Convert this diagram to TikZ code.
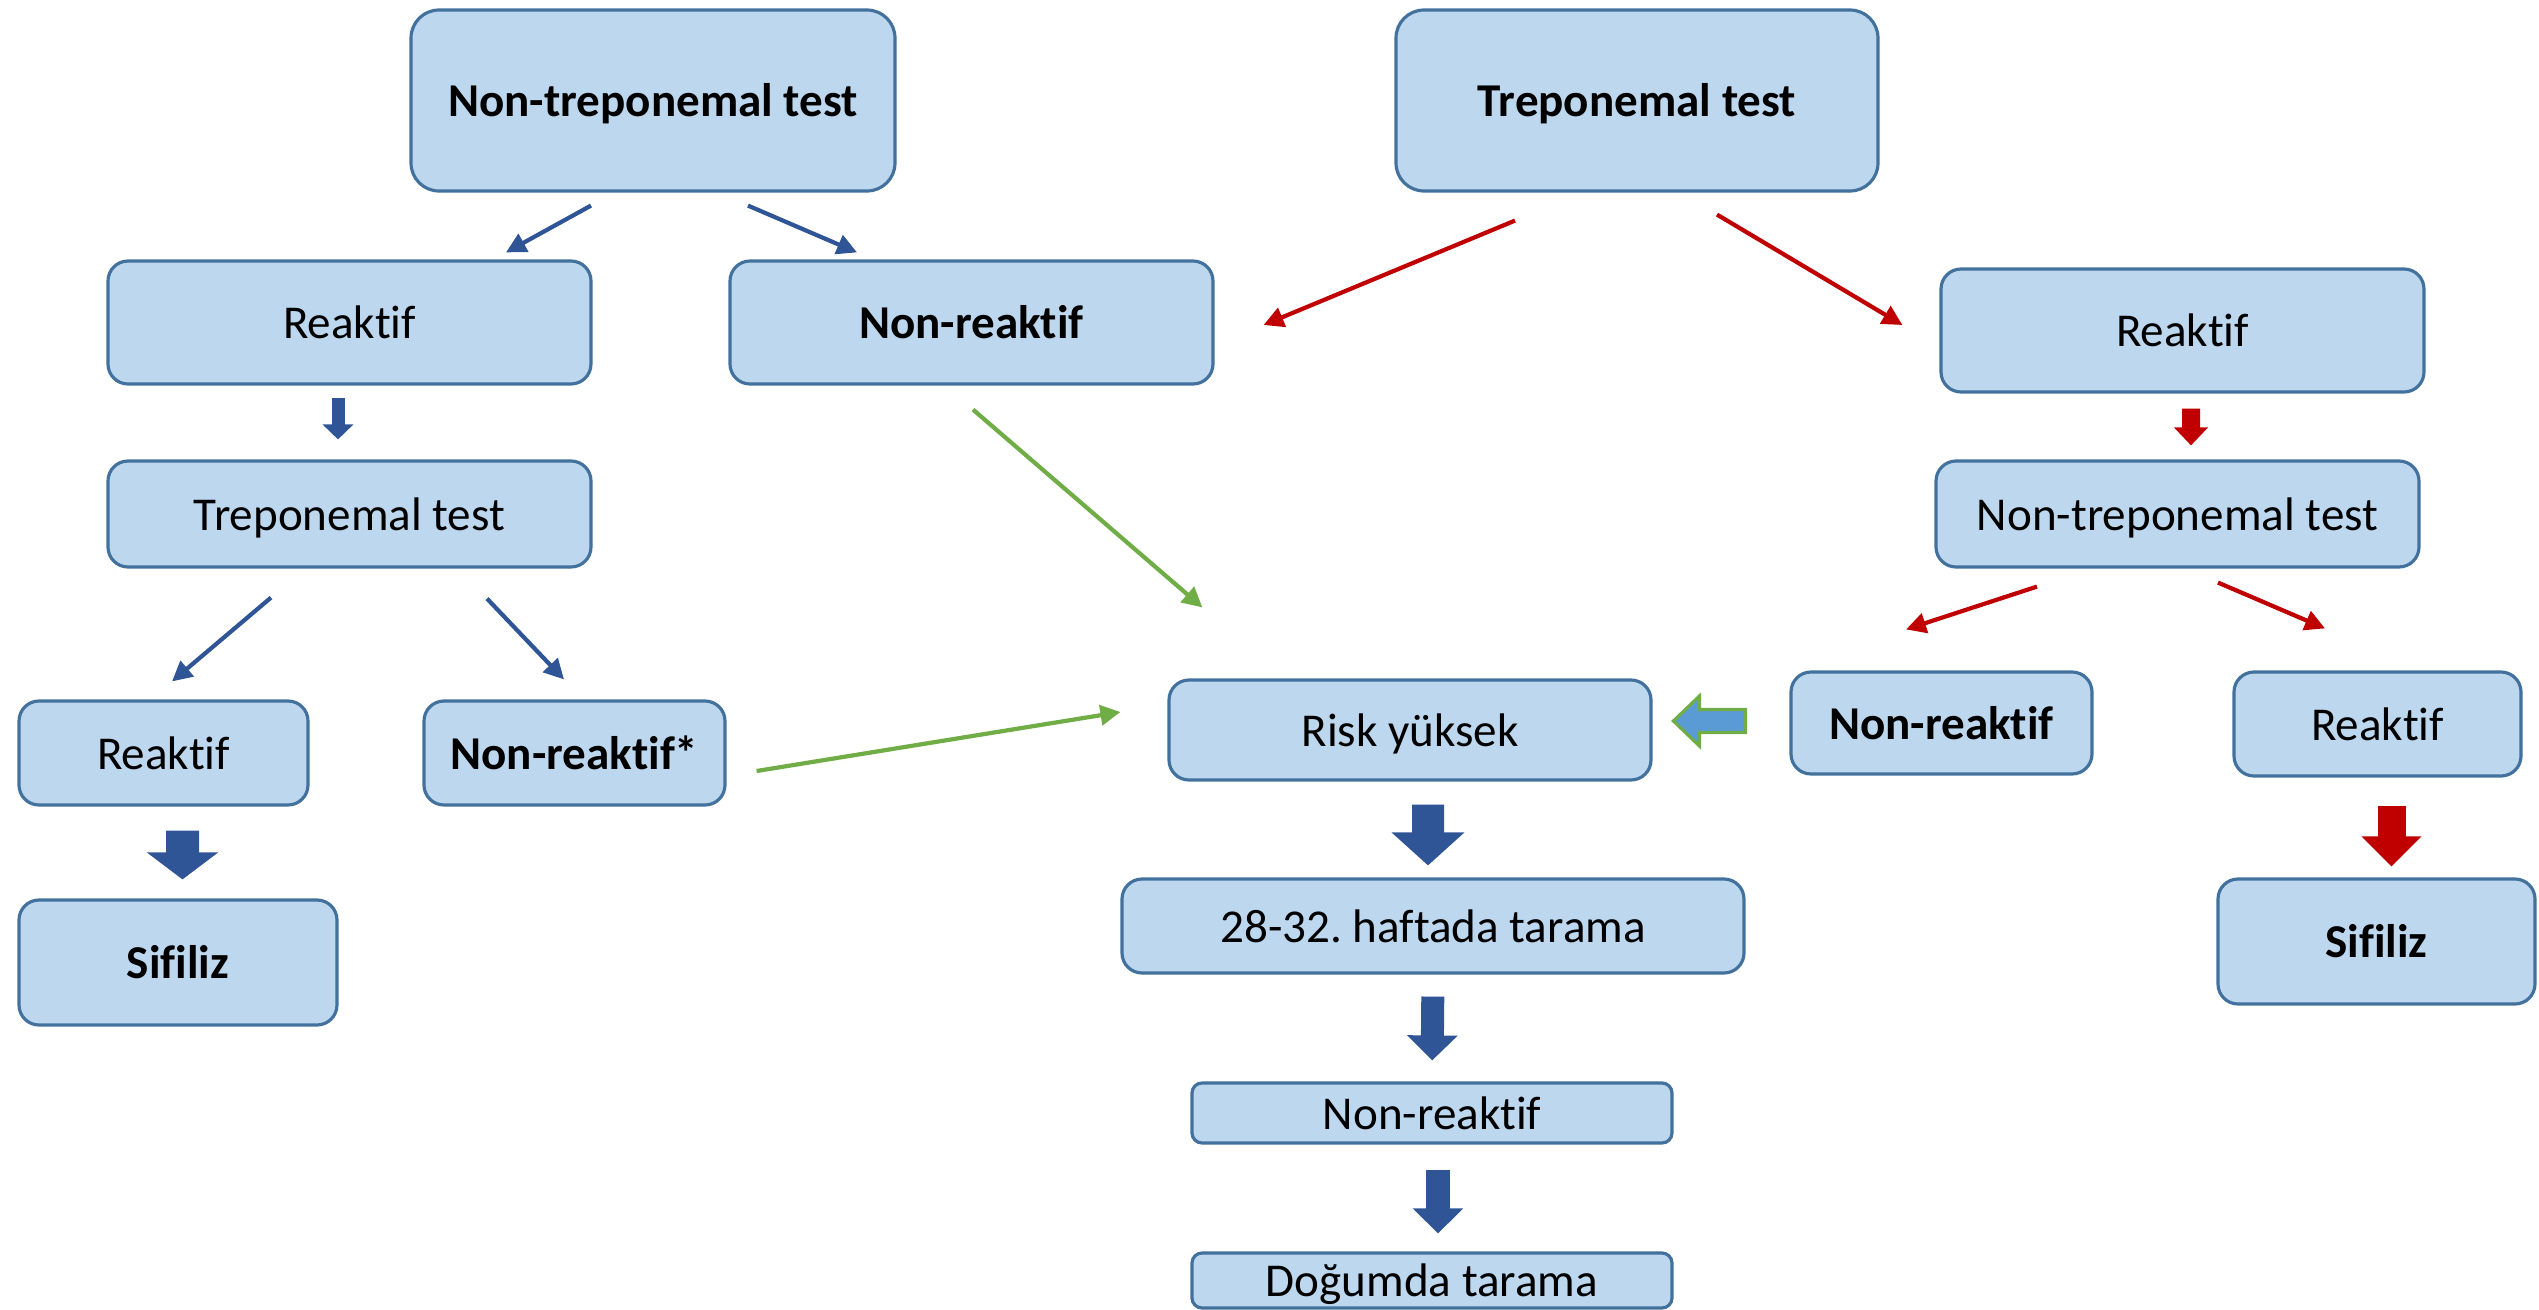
\documentclass[tikz,border=0pt]{standalone}
\usepackage{fontspec}
\setmainfont{Carlito}[Ligatures=NoCommon]
\usepackage{tikz}
\usetikzlibrary{arrows.meta,calc}
\definecolor{boxfill}{HTML}{BDD7EE}
\definecolor{boxline}{HTML}{41719C}
\definecolor{blue}{HTML}{2F5597}
\definecolor{red}{HTML}{C00000}
\definecolor{green}{HTML}{70AD47}
\definecolor{bluelite}{HTML}{5B9BD5}
\frenchspacing

\begin{document}
\begin{tikzpicture}[>={Triangle[length=0.2cm,width=0.2cm]},
    testbox/.style={rounded corners=0.2cm,fill=boxfill,draw=boxline,line width=0.9pt,inner sep=0pt,text height=0.32cm,text depth=0cm,font=\fontsize{13.4}{16}\selectfont},
    thinarr/.style={->,line width=1.2pt},
    blockarr/.style n args={3}{line width=#1,-{Triangle[length=#2,width=#3]}}]
        \useasboundingbox (0,0) rectangle (25.39,-13.10);
        % left branch
        \node[testbox,rounded corners=0.28cm,minimum width=4.84cm,minimum height=1.81cm] (ntT) at (6.53,-1.005) {\textbf{Non-treponemal test}};
        \node[testbox,minimum width=4.83cm,minimum height=1.23cm] (raL) at (3.495,-3.225) {Reaktif};
        \node[testbox,minimum width=4.83cm,minimum height=1.23cm] (nrL) at (9.715,-3.225) {\textbf{Non-reaktif}};
        \node[testbox,minimum width=4.83cm,minimum height=1.06cm] (ttL) at (3.495,-5.14) {Treponemal test};
        \node[testbox,minimum width=2.89cm,minimum height=1.04cm] (rLL) at (1.635,-7.53) {Reaktif};
        \node[testbox,minimum width=3.01cm,minimum height=1.04cm] (nrS) at (5.745,-7.53) {\textbf{Non-reaktif*}};
        \node[testbox,minimum width=3.18cm,minimum height=1.25cm] (sL) at (1.78,-9.625) {\textbf{Sifiliz}};
        % middle
        \node[testbox,minimum width=4.82cm,minimum height=1.00cm] (risk) at (14.10,-7.30) {Risk yüksek};
        \node[testbox,minimum width=6.22cm,minimum height=0.94cm] (scr) at (14.33,-9.26) {28-32. haftada tarama};
        \node[testbox,rounded corners=0.1cm,minimum width=4.80cm,minimum height=0.60cm] (nrC) at (14.32,-11.13) {Non-reaktif};
        \node[testbox,rounded corners=0.1cm,minimum width=4.80cm,minimum height=0.55cm] (dog) at (14.32,-12.805) {Doğumda tarama};
        % right branch
        \node[testbox,rounded corners=0.28cm,minimum width=4.82cm,minimum height=1.81cm] (tT) at (16.37,-1.005) {\textbf{Treponemal test}};
        \node[testbox,minimum width=4.83cm,minimum height=1.23cm] (rR) at (21.825,-3.305) {Reaktif};
        \node[testbox,minimum width=4.83cm,minimum height=1.06cm] (ntR) at (21.775,-5.14) {Non-treponemal test};
        \node[testbox,minimum width=3.01cm,minimum height=1.02cm] (nrR) at (19.415,-7.23) {\textbf{Non-reaktif}};
        \node[testbox,minimum width=2.87cm,minimum height=1.04cm] (rRb) at (23.775,-7.24) {Reaktif};
        \node[testbox,minimum width=3.17cm,minimum height=1.25cm] (sR) at (23.765,-9.415) {\textbf{Sifiliz}};

        % thin arrows
        \draw[thinarr,blue] ([shift={(-0.62,-0.13)}]ntT.south) -- ([shift={(1.565,0.07)}]raL.north);
        \draw[thinarr,blue] ([shift={(0.95,-0.13)}]ntT.south) -- ([shift={(-1.145,0.07)}]nrL.north);
        \draw[thinarr,blue] ([shift={(-0.785,-0.29)}]ttL.south) -- ([shift={(0.085,0.18)}]rLL.north);
        \draw[thinarr,blue] ([shift={(1.375,-0.30)}]ttL.south) -- ([shift={(-0.105,0.20)}]nrS.north);
        \draw[thinarr,green] ([shift={(0.015,-0.24)}]nrL.south) -- ([shift={(0.35,0.71)}]risk.north west);
        \draw[thinarr,green] ([shift={(0.30,-0.18)}]nrS.east) -- ([shift={(-0.47,0.18)}]risk.west);
        \draw[thinarr,red] ([shift={(-1.22,-0.28)}]tT.south) -- ([shift={(0.49,-0.025)}]nrL.east);
        \draw[thinarr,red] ([shift={(0.80,-0.22)}]tT.south) -- ([shift={(-0.37,0.055)}]rR.west);
        \draw[thinarr,red] ([shift={(-1.405,-0.18)}]ntR.south) -- ([shift={(-0.355,0.41)}]nrR.north);
        \draw[thinarr,red] ([shift={(0.405,-0.14)}]ntR.south) -- ([shift={(-0.525,0.42)}]rRb.north);

        % block arrows
        \draw[blockarr={0.13cm}{0.15cm}{0.30cm},blue,shorten <=0.12cm,shorten >=0.20cm] ([xshift=-0.115cm]raL.south) -- ([xshift=-0.115cm]ttL.north);
        \draw[blockarr={0.33cm}{0.27cm}{0.70cm},blue,shorten <=0.24cm,shorten >=0.19cm] ([xshift=0.19cm]rLL.south) -- ([xshift=0.045cm]sL.north);
        \draw[blockarr={0.32cm}{0.33cm}{0.71cm},blue,shorten <=0.23cm,shorten >=0.12cm] ([xshift=0.18cm]risk.south) -- ([xshift=-0.05cm]scr.north);
        \draw[blockarr={0.23cm}{0.25cm}{0.49cm},blue,shorten <=0.22cm,shorten >=0.21cm] (scr.south) -- (nrC.north);
        \draw[blockarr={0.24cm}{0.25cm}{0.49cm},blue,shorten <=0.25cm,shorten >=0.18cm] ([xshift=0.06cm]nrC.south) -- ([xshift=0.06cm]dog.north);
        \draw[blockarr={0.18cm}{0.18cm}{0.33cm},red,shorten <=0.15cm,shorten >=0.14cm] ([xshift=0.085cm]rR.south) -- ([xshift=0.135cm]ntR.north);
        \draw[blockarr={0.28cm}{0.30cm}{0.58cm},red,shorten <=0.285cm,shorten >=0.11cm] ([xshift=0.14cm]rRb.south) -- ([xshift=0.15cm]sR.north);
        \draw[fill=bluelite,draw=green,line width=0.9pt] ($(nrR.west)+(-1.16,0.02)$) -- ++(0.26,0.25) -- ++(0,-0.135) -- ++(0.46,0) -- ++(0,-0.23) -- ++(-0.46,0) -- ++(0,-0.135) -- cycle;
      \end{tikzpicture}
\end{document}
